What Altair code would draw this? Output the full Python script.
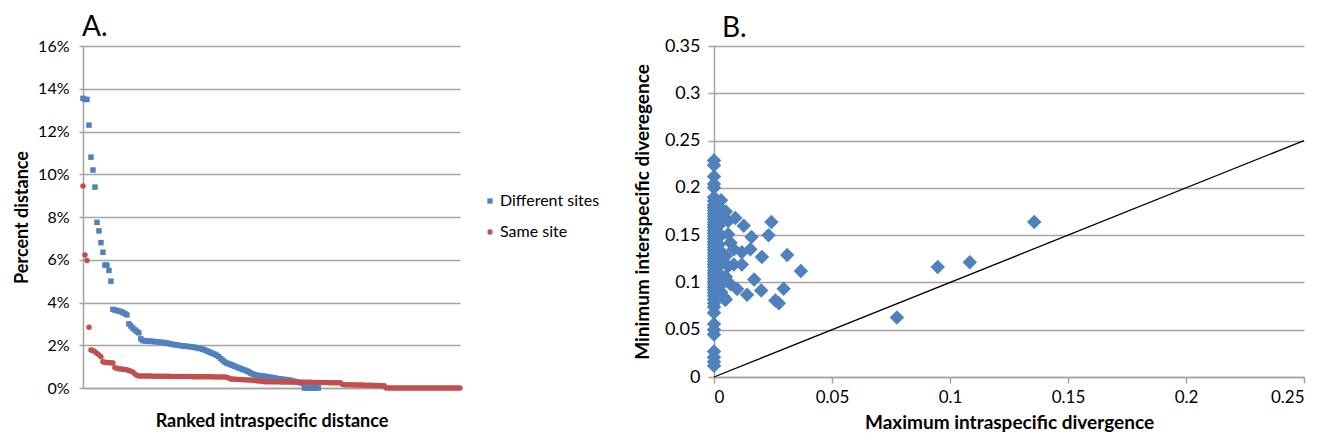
import altair as alt
import pandas as pd

# ---------------- Panel A data (percent distance, ranked) ----------------
series_names = ["Different sites", "Same site"]

diff_sites = [
    13.55, 13.5, 13.5, 12.3, 10.8, 10.2, 9.4, 7.75, 7.35, 6.8, 6.35, 5.75, 5.75, 5.5, 5.0,
    3.68, 3.65, 3.62, 3.6, 3.57, 3.53, 3.48, 3.42,
    3.0, 2.9, 2.8, 2.72, 2.65, 2.58, 2.3, 2.22,
    2.2, 2.2, 2.19, 2.18, 2.18, 2.17, 2.16, 2.15, 2.14,
    2.13, 2.12, 2.1, 2.08, 2.06, 2.04, 2.02, 2.01, 2.0, 1.98, 1.97, 1.96,
    1.95, 1.94, 1.93, 1.92, 1.9,
    1.88, 1.86, 1.84, 1.81, 1.78, 1.74, 1.7,
    1.66, 1.62, 1.58, 1.53, 1.47,
    1.38, 1.3, 1.22,
    1.17, 1.13, 1.1, 1.06, 1.02, 0.98,
    0.94, 0.91, 0.87, 0.84, 0.8, 0.76,
    0.7, 0.66, 0.62, 0.6,
    0.58, 0.57, 0.56, 0.55, 0.53, 0.52, 0.5, 0.49, 0.47, 0.45,
    0.43, 0.42, 0.41, 0.4, 0.38, 0.37, 0.36,
    0.33, 0.31, 0.29, 0.27, 0.25, 0.22,
    0, 0, 0, 0, 0, 0, 0, 0,
]

same_site = [
    9.45, 6.22, 5.96, 2.84,
    1.78, 1.75, 1.7, 1.62, 1.55, 1.46, 1.23,
    1.2, 1.19, 1.18, 1.18, 1.17,
    0.95,
    0.92, 0.9, 0.89, 0.88, 0.87, 0.85,
    0.82, 0.78, 0.75,
    0.65, 0.58,
    0.56, 0.56, 0.56, 0.56, 0.56, 0.56, 0.56,
    0.55, 0.55, 0.55, 0.55, 0.55, 0.55, 0.55, 0.55, 0.55,
    0.54, 0.54, 0.54, 0.54, 0.54, 0.54, 0.54, 0.54, 0.54, 0.54, 0.54,
    0.53, 0.53, 0.53, 0.53, 0.53, 0.53, 0.53, 0.53, 0.53, 0.53, 0.53,
    0.52, 0.52, 0.52, 0.52, 0.52, 0.52, 0.5, 0.47,
    0.42, 0.42, 0.41, 0.41, 0.4, 0.4, 0.39, 0.39, 0.38, 0.38,
    0.37, 0.36, 0.35, 0.34, 0.33, 0.33, 0.32,
    0.29, 0.29, 0.29, 0.29, 0.29, 0.29, 0.29, 0.29,
    0.28, 0.28, 0.28, 0.28, 0.28, 0.28, 0.28, 0.28,
    0.27, 0.27, 0.27, 0.27, 0.27, 0.27, 0.27, 0.27,
    0.26, 0.26, 0.26, 0.26, 0.26, 0.26, 0.26, 0.26,
    0.25, 0.25, 0.25, 0.25, 0.25, 0.25, 0.25,
    0.17, 0.15, 0.15, 0.15, 0.15, 0.15,
    0.14, 0.14, 0.14, 0.14, 0.14,
    0.13, 0.13, 0.13, 0.13, 0.13,
    0.12, 0.12, 0.12, 0.12, 0.1, 0.1,
    0, 0, 0, 0, 0, 0, 0, 0, 0, 0,
    0, 0, 0, 0, 0, 0, 0, 0, 0, 0,
    0, 0, 0, 0, 0, 0, 0, 0, 0, 0,
    0, 0, 0, 0, 0, 0, 0, 0,
]

pct_ticks = [0, 2, 4, 6, 8, 10, 12, 14, 16]

# ---------------- Panel B data (divergences) ----------------
b_x = [
    0, 0, 0, 0, 0, 0, 0, 0, 0, 0, 0, 0, 0, 0, 0, 0, 0, 0, 0, 0,
    0, 0, 0, 0, 0, 0, 0, 0, 0, 0, 0, 0, 0, 0, 0, 0, 0, 0, 0, 0,
    0, 0, 0, 0, 0, 0, 0, 0, 0, 0, 0,
    0.002, 0.003, 0.002, 0.003, 0.002, 0.004, 0.003, 0.002, 0.004, 0.003, 0.004, 0.003,
    0.006, 0.005, 0.006, 0.007, 0.005, 0.006, 0.005, 0.005, 0.007,
    0.009, 0.0126, 0.0243, 0.0231, 0.0159, 0.031, 0.0368, 0.0203, 0.0154, 0.0118,
    0.0084, 0.0084, 0.0118, 0.0098, 0.014, 0.017, 0.02, 0.0295, 0.0275, 0.026,
    0.0046, 0.003,
    0.0775, 0.0948, 0.1084, 0.1357,
]
b_y = [
    0.012, 0.016, 0.021, 0.027, 0.045, 0.05, 0.056, 0.068, 0.074, 0.078,
    0.082, 0.086, 0.089, 0.092, 0.095, 0.098, 0.101, 0.104, 0.107, 0.11,
    0.113, 0.116, 0.119, 0.122, 0.125, 0.128, 0.131, 0.134, 0.137, 0.14,
    0.143, 0.146, 0.149, 0.152, 0.155, 0.158, 0.161, 0.164, 0.167, 0.17,
    0.173, 0.176, 0.179, 0.182, 0.186, 0.19, 0.2, 0.204, 0.212, 0.224, 0.229,
    0.18, 0.17, 0.16, 0.15, 0.14, 0.13, 0.12, 0.11, 0.1, 0.09, 0.085, 0.187,
    0.151, 0.175, 0.165, 0.142, 0.128, 0.117, 0.106, 0.082, 0.098,
    0.168, 0.16, 0.164, 0.15, 0.148, 0.129, 0.112, 0.127, 0.135, 0.132,
    0.135, 0.119, 0.119, 0.093, 0.087, 0.103, 0.0915, 0.0933, 0.078, 0.081,
    0.082, 0.098,
    0.063, 0.1164, 0.1214, 0.164,
]
line_x = [0, 0.25]
line_y = [0, 0.25]
div_ticks_x = [0, 0.05, 0.1, 0.15, 0.2, 0.25]
div_ticks_y = [0, 0.05, 0.1, 0.15, 0.2, 0.25, 0.3, 0.35]

# ---------------- tables ----------------
rows = []
for i, v in enumerate(diff_sites):
    rows.append({"rank": i + 1, "pct": v, "series": series_names[0]})
for i, v in enumerate(same_site):
    rows.append({"rank": i + 1, "pct": v, "series": series_names[1]})
dfA = pd.DataFrame(rows)
dfB = pd.DataFrame({"maxintra": b_x, "mininter": b_y})
dfL = pd.DataFrame({"maxintra": line_x, "mininter": line_y})

FONT = "Lato"
GRID = "#a3a3a3"
BLUE = "#4F81BD"
RED = "#C0504D"
n_rank = len(same_site)

legendA = alt.Legend(
    title=None, orient="none", legendX=399, legendY=147,
    labelFontSize=16, labelFont=FONT, labelColor="black",
    symbolSize=28, rowPadding=15, labelOffset=2, padding=0,
)

chartA = alt.Chart(dfA).mark_point(filled=True, opacity=1, size=30).encode(
    x=alt.X("rank:Q",
            scale=alt.Scale(domain=[1, n_rank], nice=False, zero=False),
            axis=alt.Axis(title="Ranked intraspecific distance", labels=False, ticks=False,
                          grid=False, domainColor=GRID, domainWidth=1.5,
                          titlePadding=24, titleFontSize=18, titleFontWeight="bold",
                          titleColor="black")),
    y=alt.Y("pct:Q",
            scale=alt.Scale(domain=[0, 16], nice=False),
            axis=alt.Axis(title="Percent distance", values=pct_ticks,
                          labelExpr="datum.value + '%'",
                          labelFontSize=16, labelColor="black", labelPadding=10,
                          tickSize=4, tickColor=GRID, tickWidth=1.5,
                          grid=True, gridColor=GRID, gridWidth=1.5,
                          domainColor=GRID, domainWidth=1.5,
                          titleFontSize=18, titleFontWeight="bold", titleColor="black",
                          titlePadding=6)),
    color=alt.Color("series:N", scale=alt.Scale(domain=series_names, range=[BLUE, RED]),
                    legend=legendA),
    shape=alt.Shape("series:N", scale=alt.Scale(domain=series_names, range=["square", "circle"]),
                    legend=legendA),
    order=alt.Order("series:N"),
).properties(
    width=377, height=342,
    title=alt.Title("A.", anchor="start", frame="group", fontSize=28, fontWeight="normal",
                    font=FONT, color="black", dx=-1, offset=-4),
)

xB = alt.X("maxintra:Q",
           scale=alt.Scale(domain=[0, 0.25], nice=False),
           axis=alt.Axis(title="Maximum intraspecific divergence", values=div_ticks_x,
                         format=".2~f", labelFontSize=17, labelColor="black", labelPadding=6,
                         tickSize=6, tickColor=GRID, tickWidth=1.5, grid=False,
                         domainColor=GRID, domainWidth=1.5,
                         titleFontSize=19, titleFontWeight="bold", titleColor="black",
                         titlePadding=8))
yB = alt.Y("mininter:Q",
           scale=alt.Scale(domain=[0, 0.35], nice=False),
           axis=alt.Axis(title="Minimum interspecific diveregence", values=div_ticks_y,
                         format=".2~f", labelFontSize=18, labelColor="black", labelPadding=8,
                         tickSize=6, tickColor=GRID, tickWidth=1.5,
                         grid=True, gridColor=GRID, gridWidth=1.5,
                         domainColor=GRID, domainWidth=1.5,
                         titleFontSize=19, titleFontWeight="bold", titleColor="black",
                         titlePadding=12))

pointsB = alt.Chart(dfB).mark_point(shape="diamond", filled=True, size=210, opacity=1,
                                    color=BLUE).encode(x=xB, y=yB)
lineB = alt.Chart(dfL).mark_line(color="black", strokeWidth=1.3).encode(
    x="maxintra:Q", y="mininter:Q")

chartB = alt.layer(pointsB, lineB).properties(
    width=590, height=331,
    title=alt.Title("B.", anchor="start", frame="group", fontSize=28, fontWeight="normal",
                    font=FONT, color="black", dx=8, offset=-6),
)

chart = alt.hconcat(chartA, chartB, spacing=170).properties(
    padding={"left": 5, "top": 6, "right": 0, "bottom": 0}
).configure_view(stroke=None).configure_axis(
    labelFont=FONT, titleFont=FONT
).configure_legend(labelFont=FONT).configure_title(font=FONT)

chart.save("out.html", embed_options={"renderer": "svg", "actions": False})
